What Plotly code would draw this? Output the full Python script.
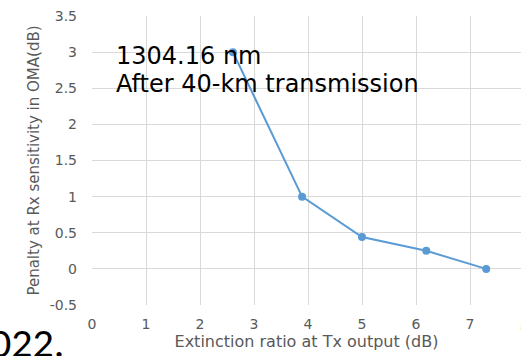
import plotly.graph_objects as go

# Data
extinction_ratio = [2.61, 3.89, 5.0, 6.19, 7.3]
penalty = [3.0, 1.0, 0.44, 0.25, 0.0]

y_tick_values = [-0.5, 0, 0.5, 1, 1.5, 2, 2.5, 3, 3.5]
y_tick_labels = ["-0.5", "0", "0.5", "1", "1.5", "2", "2.5", "3", "3.5"]

x_title = "Extinction ratio at Tx output (dB)"
y_title = "Penalty at Rx sensitivity in OMA(dB)"
label_lines = ["1304.16 nm", "After 40-km transmission"]
caption_fragment = "022."

FONT = "DejaVu Sans, sans-serif"
GRID = "#d9d9d9"
TICK = "#595959"

L, R, T, B = 92, 0, 16, 51
W, H = 521, 356
PW, PH = W - L - R, H - T - B


def px_x(px):
    return (px - L) / PW


def px_y(py):
    return (H - B - py) / PH


fig = go.Figure()
fig.add_trace(go.Scatter(
    x=extinction_ratio, y=penalty, mode="lines+markers",
    line=dict(color="#5b9bd5", width=2),
    marker=dict(color="#5b9bd5", size=8),
    showlegend=False, cliponaxis=False,
))

annotations = []
for i, line in enumerate(label_lines):
    annotations.append(dict(
        text=line, xref="paper", yref="paper", x=px_x(114), y=px_y(56 + 28 * i),
        xanchor="left", yanchor="middle", showarrow=False, align="left",
        font=dict(family=FONT, size=24, color="black")))
annotations.append(dict(
    text="8", xref="paper", yref="paper", x=px_x(524), y=px_y(316),
    xanchor="center", yanchor="top", showarrow=False,
    font=dict(family=FONT, size=14, color=TICK)))
annotations.append(dict(
    text=caption_fragment, xref="paper", yref="paper", x=px_x(-12), y=px_y(370),
    xanchor="left", yanchor="bottom", showarrow=False,
    font=dict(family="Carlito, Liberation Sans, sans-serif", size=42, color="black")))

fig.update_layout(
    width=W, height=H,
    margin=dict(l=L, r=R, t=T, b=B),
    paper_bgcolor="white", plot_bgcolor="white",
    font=dict(family=FONT, color=TICK, size=14),
    xaxis=dict(
        range=[0, PW / 54.0], dtick=1, tick0=0, showgrid=True, gridcolor=GRID, gridwidth=1,
        zeroline=False, showline=False, ticks="", ticklabelstandoff=9,
        tickfont=dict(family=FONT, size=14, color=TICK),
        title=dict(text=x_title, font=dict(family=FONT, size=16, color=TICK), standoff=4),
    ),
    yaxis=dict(
        range=[-0.5, 3.5], tickmode="array", tickvals=y_tick_values, ticktext=y_tick_labels,
        showgrid=True, gridcolor=GRID, gridwidth=1,
        zeroline=True, zerolinecolor=GRID, zerolinewidth=1, showline=False, ticks="",
        ticklabelstandoff=14,
        tickfont=dict(family=FONT, size=14, color=TICK),
        title=dict(text=y_title, font=dict(family=FONT, size=15, color=TICK), standoff=6),
    ),
    annotations=annotations,
)

fig.write_html("out.html")
